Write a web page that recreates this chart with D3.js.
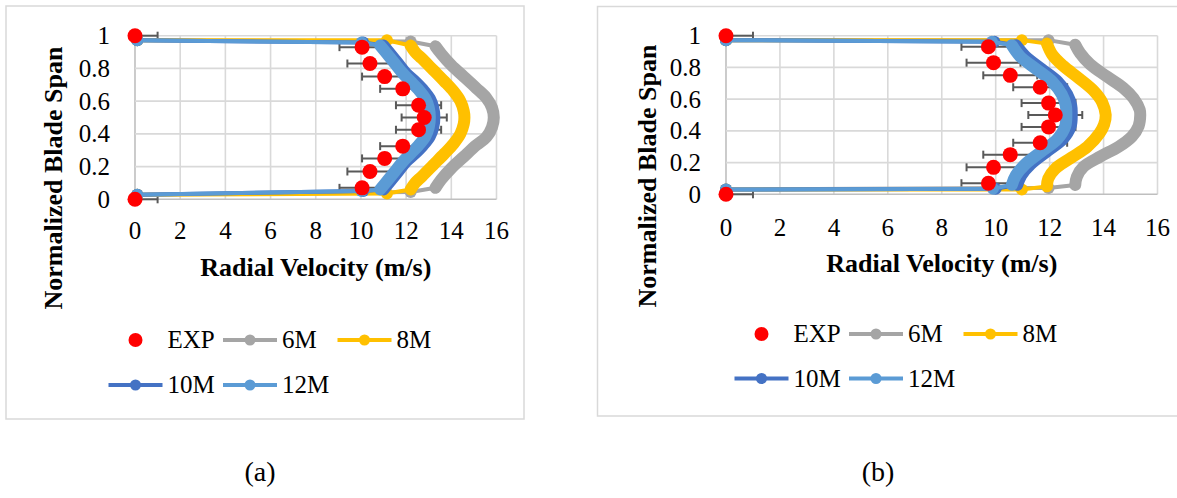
<!DOCTYPE html>
<html>
<head>
<meta charset="utf-8">
<script src="https://cdn.jsdelivr.net/npm/d3@7"></script>
<style>
  body { margin: 0; background: #fff; }
  svg { display: block; }
  text { font-family: "Liberation Serif", "Times New Roman", serif; fill: #000; }
</style>
</head>
<body>
<div id="wrapper"></div>
<script>
// axis ticks
const xTicks = [0, 2, 4, 6, 8, 10, 12, 14, 16];
const yTicks = [0, 0.2, 0.4, 0.6, 0.8, 1];
const yTickLabels = ["0", "0.2", "0.4", "0.6", "0.8", "1"];

// experiment (span positions are shared by both panels)
const expSpan = [1, 0.93, 0.83, 0.75, 0.675, 0.575, 0.5, 0.425, 0.325, 0.25, 0.17, 0.07, 0];
const expVelA = [0, 10.05, 10.4, 11.05, 11.85, 12.55, 12.8, 12.55, 11.85, 11.05, 10.4, 10.05, 0];
const expVelB = [0, 9.73, 9.92, 10.54, 11.65, 11.96, 12.21, 11.96, 11.65, 10.54, 9.92, 9.73, 0];
const expErr = [1, 1, 1, 1, 1, 1, 1, 1, 1, 1, 1, 1, 1];

// CFD profiles [velocity, span]  -- panel (a)
const a6M = [[0.1,0.972],[12.2,0.965],[13.3,0.935],[13.55,0.89],[14.0,0.82],[14.55,0.75],[15.1,0.68],[15.55,0.62],[15.8,0.56],[15.88,0.5],[15.8,0.44],[15.55,0.38],[15.1,0.33],[14.55,0.26],[14.0,0.19],[13.55,0.12],[13.3,0.07],[12.2,0.045],[0.1,0.028]];
const a8M = [[0.1,0.972],[11.15,0.972],[12.2,0.94],[12.4,0.9],[12.7,0.86],[13.2,0.79],[13.7,0.72],[14.1,0.66],[14.4,0.6],[14.55,0.54],[14.58,0.5],[14.55,0.46],[14.4,0.4],[14.1,0.34],[13.7,0.28],[13.2,0.21],[12.7,0.14],[12.4,0.1],[12.2,0.06],[11.15,0.035],[0.1,0.028]];
const a10M = [[0.1,0.972],[10.1,0.958],[11.0,0.94],[11.3,0.89],[11.65,0.83],[12.0,0.77],[12.4,0.72],[12.75,0.67],[13.05,0.615],[13.2,0.56],[13.25,0.5],[13.2,0.44],[13.05,0.385],[12.75,0.33],[12.4,0.28],[12.0,0.23],[11.65,0.17],[11.3,0.11],[11.0,0.06],[10.1,0.05],[0.1,0.028]];
const a12M = [[0.1,0.972],[10.03,0.958],[10.85,0.94],[11.15,0.89],[11.5,0.83],[11.85,0.77],[12.2,0.72],[12.55,0.67],[12.85,0.615],[13.0,0.56],[13.05,0.5],[13.0,0.44],[12.85,0.385],[12.55,0.33],[12.2,0.28],[11.85,0.23],[11.5,0.17],[11.15,0.11],[10.85,0.06],[10.03,0.05],[0.1,0.028]];

// panel (b)
const b6M = [[0,0.972],[11.96,0.972],[12.95,0.943],[13.13,0.89],[13.5,0.82],[14.12,0.743],[14.74,0.67],[15.11,0.606],[15.34,0.533],[15.36,0.5],[15.3,0.43],[15.05,0.364],[14.56,0.3],[13.88,0.238],[13.26,0.174],[13.01,0.111],[12.95,0.059],[11.96,0.04],[0,0.03]];
const b8M = [[0,0.972],[10.97,0.972],[11.9,0.95],[12.1,0.88],[12.5,0.81],[13.1,0.73],[13.65,0.65],[13.95,0.58],[14.08,0.5],[14.02,0.44],[13.85,0.385],[13.4,0.3],[12.8,0.23],[12.2,0.16],[11.95,0.1],[11.9,0.05],[10.97,0.03],[0,0.03]];
const b10M = [[0,0.972],[9.95,0.962],[10.75,0.94],[11.1,0.87],[11.7,0.79],[12.3,0.71],[12.65,0.63],[12.8,0.56],[12.82,0.5],[12.78,0.43],[12.5,0.35],[11.9,0.27],[11.3,0.19],[10.95,0.12],[10.8,0.06],[10.0,0.035],[0,0.03]];
const b12M = [[0,0.972],[9.86,0.962],[10.6,0.94],[10.9,0.87],[11.5,0.79],[12.1,0.71],[12.45,0.63],[12.6,0.56],[12.62,0.5],[12.58,0.43],[12.3,0.35],[11.7,0.27],[11.1,0.19],[10.75,0.12],[10.6,0.06],[9.9,0.035],[0,0.03]];

const seriesNames = ["6M", "8M", "10M", "12M"];
const seriesColors = ["#A5A5A5", "#FFC000", "#4472C4", "#5B9BD5"];

const svg = d3.select("#wrapper").append("svg")
    .attr("width", 1177)
    .attr("height", 498);

function drawPanel(p) {
    const g = svg.append("g");

    // chart border
    g.append("rect")
        .attr("x", p.box[0]).attr("y", p.box[1])
        .attr("width", p.box[2]).attr("height", p.box[3])
        .attr("fill", "none").attr("stroke", "#D9D9D9").attr("stroke-width", 1.5);

    const x = d3.scaleLinear().domain([0, 16]).range([p.left, p.right]);
    const y = d3.scaleLinear().domain([0, 1]).range([p.bottom, p.top]);

    // grid
    g.selectAll(".vg").data(xTicks).join("line")
        .attr("x1", d => x(d)).attr("x2", d => x(d))
        .attr("y1", p.top).attr("y2", p.bottom)
        .attr("stroke", d => d === 0 ? "#BFBFBF" : "#D9D9D9").attr("stroke-width", 1.6);
    g.selectAll(".hg").data(yTicks).join("line")
        .attr("x1", p.left).attr("x2", p.right)
        .attr("y1", d => y(d)).attr("y2", d => y(d))
        .attr("stroke", d => d === 0 ? "#BFBFBF" : "#D9D9D9").attr("stroke-width", 1.6);

    // tick labels
    g.selectAll(".xl").data(xTicks).join("text")
        .attr("x", d => x(d)).attr("y", p.bottom + p.xTickDy)
        .attr("text-anchor", "middle").attr("font-size", 25)
        .text(d => d);
    g.selectAll(".yl").data(yTicks).join("text")
        .attr("x", p.left - 25).attr("y", d => y(d) + 8.5)
        .attr("text-anchor", "end").attr("font-size", 25)
        .text((d, i) => yTickLabels[i]);

    // axis titles
    g.append("text")
        .attr("x", (p.left + p.right) / 2).attr("y", p.xTitleY)
        .attr("text-anchor", "middle").attr("font-size", 26).attr("font-weight", "bold")
        .text("Radial Velocity (m/s)");
    g.append("text")
        .attr("transform", `translate(${p.yTitleX},${p.yTitleY}) rotate(-90)`)
        .attr("text-anchor", "middle").attr("font-size", 26).attr("font-weight", "bold")
        .text("Normalized Blade Span");

    // error bars
    const eb = g.append("g").attr("stroke", "#595959").attr("stroke-width", 2);
    p.expVel.forEach((v, i) => {
        const lo = Math.max(0, v - expErr[i]);
        const hi = v + expErr[i];
        const yy = y(expSpan[i]);
        eb.append("line").attr("x1", x(lo)).attr("x2", x(hi)).attr("y1", yy).attr("y2", yy);
        if (v - expErr[i] >= 0)
            eb.append("line").attr("x1", x(lo)).attr("x2", x(lo)).attr("y1", yy - 4).attr("y2", yy + 4);
        eb.append("line").attr("x1", x(hi)).attr("x2", x(hi)).attr("y1", yy - 4).attr("y2", yy + 4);
    });

    // CFD series
    const thin = d3.line().x(d => x(d[0])).y(d => y(d[1]));
    const band = d3.line().x(d => x(d[0])).y(d => y(d[1])).curve(d3.curveCatmullRom.alpha(0.5));
    p.series.forEach((pts, k) => {
        const c = seriesColors[k];
        g.append("path").attr("d", thin(pts))
            .attr("fill", "none").attr("stroke", c).attr("stroke-width", 4)
            .attr("stroke-linejoin", "round");
        g.append("path").attr("d", band(pts.slice(2, -2)))
            .attr("fill", "none").attr("stroke", c).attr("stroke-width", 12)
            .attr("stroke-linecap", "round").attr("stroke-linejoin", "round");
        const ends = [pts[0], pts[1], pts[pts.length - 2], pts[pts.length - 1]];
        g.selectAll(null).data(ends).join("circle")
            .attr("cx", d => x(d[0])).attr("cy", d => y(d[1])).attr("r", 6)
            .attr("fill", c);
    });

    // experiment markers
    g.selectAll(".exp").data(p.expVel).join("circle")
        .attr("cx", d => x(d)).attr("cy", (d, i) => y(expSpan[i])).attr("r", 7.5)
        .attr("fill", "#FF0000");

    // legend
    const step = 114.5;
    const items = [
        { name: "EXP", col: 0, row: 0, exp: true },
        { name: "6M", col: 1, row: 0, k: 0 },
        { name: "8M", col: 2, row: 0, k: 1 },
        { name: "10M", col: 0, row: 1, k: 2 },
        { name: "12M", col: 1, row: 1, k: 3 }
    ];
    items.forEach(it => {
        const cx = p.legX + it.col * step;
        const cy = it.row === 0 ? p.legY1 : p.legY2;
        if (it.exp) {
            g.append("circle").attr("cx", cx).attr("cy", cy).attr("r", 7).attr("fill", "#FF0000");
        } else {
            const c = seriesColors[it.k];
            g.append("line").attr("x1", cx - 27).attr("x2", cx + 27).attr("y1", cy).attr("y2", cy)
                .attr("stroke", c).attr("stroke-width", 4);
            g.append("circle").attr("cx", cx).attr("cy", cy).attr("r", 5.5).attr("fill", c);
        }
        g.append("text").attr("x", cx + 32).attr("y", cy + 8.3)
            .attr("font-size", 25).text(it.name);
    });

    // caption
    g.append("text").attr("x", p.capX).attr("y", 481)
        .attr("text-anchor", "middle").attr("font-size", 28).text(p.caption);
}

drawPanel({
    box: [6, 6, 518, 413],
    left: 135, right: 496.5, top: 35.7, bottom: 199.3,
    xTickDy: 40, xTitleY: 276, yTitleX: 62, yTitleY: 178,
    legX: 135.5, legY1: 340, legY2: 385,
    expVel: expVelA,
    series: [a6M, a8M, a10M, a12M],
    caption: "(a)", capX: 260
});

drawPanel({
    box: [597.5, 6.5, 600, 409.5],
    left: 726, right: 1157.5, top: 35.7, bottom: 194.3,
    xTickDy: 41.7, xTitleY: 272, yTitleX: 656, yTitleY: 176,
    legX: 761.5, legY1: 334, legY2: 378.5,
    expVel: expVelB,
    series: [b6M, b8M, b10M, b12M],
    caption: "(b)", capX: 878
});
</script>
</body>
</html>
